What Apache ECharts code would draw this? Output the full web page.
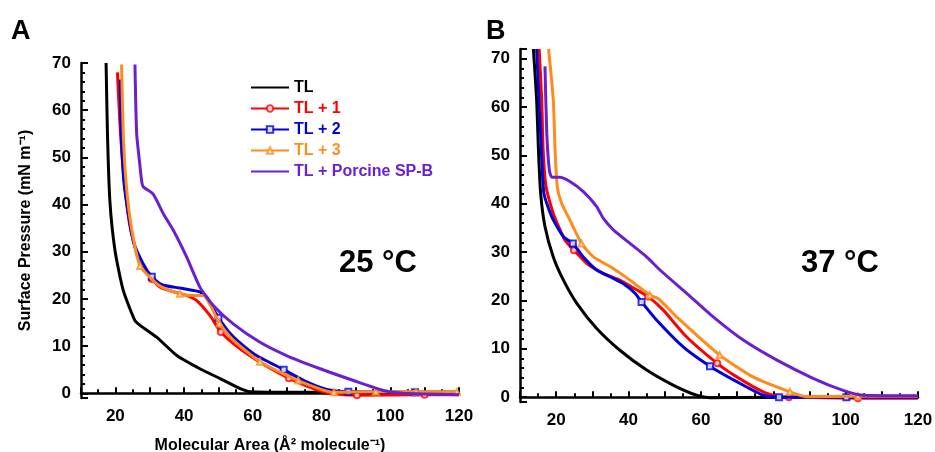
<!DOCTYPE html>
<html>
<head>
<meta charset="UTF-8">
<title>Surface pressure isotherms</title>
<script src="https://cdn.jsdelivr.net/npm/echarts@6/dist/echarts.min.js"></script>
<style>
  body { margin: 0; background: #fff; }
  #root { width: 935px; height: 452px; }
</style>
</head>
<body>
<div id="root"></div>
<script>
// series names (legend order)
var names = ['TL', 'TL + 1', 'TL + 2', 'TL + 3', 'TL + Porcine SP-B'];
var colors = ['#000000', '#ff0000', '#0000dd', '#ff8c1a', '#6a1fd0'];
var markSymbols = ['none', 'emptyCircle', 'emptyRect', 'emptyTriangle', 'none'];
var xTicks = [20, 40, 60, 80, 100, 120];

// panel A, 25 °C  [area, pressure]
var a_TL = [[17.3,70],[17.7,55],[18.4,40.8],[19.9,30.2],[22.3,21.8],[25.7,15.4],[27.2,14.4],[32,11.9],[37.9,8],[44.6,5.2],[50.5,3.1],[56.3,1.0],[59.7,0.3],[70,0.2],[90,0.2],[120,0.2]];
var a_TL1 = [[20.6,68],[21.5,55],[22.8,43.6],[24.3,35.2],[27.2,27.4],[30.6,24.2],[33,22.5],[38.8,21.1],[40.5,20.8],[43.6,19.7],[47.5,16.5],[50.7,13],[56.3,9.4],[62.1,6.6],[70.5,3.2],[77.6,1.0],[82.6,0],[90.3,-0.4],[110,-0.3],[120,-0.3]];
var a_TL2 = [[21.4,66.5],[21.7,55],[22.6,44],[25.2,32.3],[28.1,27.4],[30.6,24.7],[33.5,23],[38.8,22.3],[42.7,21.8],[44.6,21.5],[46.6,20.4],[50,16],[54.4,11.9],[60.2,8.4],[69,5],[75.7,2.4],[81.5,0.8],[87.8,0.3],[107.2,0.2],[120,0.2]];
var a_TL3 = [[21.8,69.7],[22.3,55],[23.2,44],[24.7,35],[27.2,27],[31,23.9],[33.5,22.5],[38.8,21.1],[42.7,20.7],[45.6,20.7],[48,18.2],[50.3,14.8],[54.4,11.2],[62.1,6.7],[73.2,2.7],[83.6,0.2],[95.8,0.3],[107.5,0.3],[119.4,0.3]];
var a_SPB = [[25.7,69.7],[26.2,55],[27,49.3],[27.7,44.7],[28.2,43.7],[31,42.2],[34,38],[36.9,34.5],[40.8,28.8],[44.6,22.5],[48.5,18.6],[54.3,14.7],[62.1,10.8],[69.8,8],[79.6,5.2],[89.3,2.7],[98,0.6],[103.8,0],[120,-0.3]];
// areas where markers sit
var a_marks = [[], [30.6,50.7,70.5,90.3,110], [30.6,50,69,87.8,107.2], [27.2,38.8,50.3,62.1,73.2,83.6,95.8,107.5,119.4], []];

// panel B, 37 °C
var b_TL = [[13.7,72],[14.6,61.5],[15.1,51.1],[15.7,42.2],[16.9,35.3],[19.2,29],[22,24.2],[25.7,19.4],[31.2,14.2],[37.6,9.7],[45,5.6],[52.3,2.5],[58.8,0.4],[62.5,-0.1],[80,0],[120,0]];
var b_TL1 = [[15.3,72],[16,61.5],[16.4,51.1],[17.2,43.5],[19.2,38],[22.4,32.5],[24.9,30.4],[28.4,27.7],[33,25.6],[37.6,24.2],[42.2,22.2],[45.4,20.8],[49.6,18],[56,12.5],[64.5,7],[69.9,4.2],[77.2,1.1],[81.8,0.1],[84.3,0],[103.4,-0.2],[120,-0.2]];
var b_TL2 = [[14.6,72],[15.7,54.6],[16.6,42.2],[18.8,37.3],[22,33.2],[24.6,31.8],[27.5,29],[31.2,26.3],[34.9,24.9],[38.5,23.5],[41.8,21.5],[43.6,19.7],[47.8,15.9],[55.1,10.4],[62.5,6.4],[69.9,3.2],[77.2,0.4],[81.6,0],[100.2,0],[120,0]];
var b_TL3 = [[17.9,72],[19.2,61.5],[19.7,51.1],[20.3,43.5],[21.5,40.1],[23.8,36.6],[27,31.8],[30.3,29],[34.9,27],[40.4,24.2],[45.9,21.1],[48.2,20.4],[53.3,16.6],[65.2,8.7],[74.4,4.2],[84.6,1.1],[89.2,0.1],[103.4,0.2],[120,0.2]];
var b_SPB = [[16.9,68.4],[17.4,54.6],[18.1,47],[18.8,45.5],[21,45.5],[23.8,44.6],[27.5,42.5],[31.2,39.4],[33,37],[35.8,34.6],[40.4,31.8],[45,29],[48.7,26.3],[56,21.5],[63.4,16.6],[71.7,11.8],[80.9,7.7],[91,3.9],[99.3,1.4],[104.8,0.4],[120,0.3]];
var b_marks = [[], [24.9,45.4,64.5,84.3,103.4], [24.6,43.6,62.5,81.6,100.2], [27,45.9,65.2,84.6,103.4], []];

var panelA = [a_TL, a_TL1, a_TL2, a_TL3, a_SPB];
var panelB = [b_TL, b_TL1, b_TL2, b_TL3, b_SPB];

var font = '"Liberation Sans", Arial, sans-serif';

function makeSeries(sets, marks, idx) {
    return sets.map(function (pts, i) {
        return {
            type: 'line',
            name: names[i],
            xAxisIndex: idx,
            yAxisIndex: idx,
            symbol: markSymbols[i],
            symbolSize: 6,
            showSymbol: true,
            smooth: 0.2,
            clip: false,
            z: i === 0 ? 2 : 3 + i,
            lineStyle: { color: colors[i], width: 3 },
            itemStyle: { color: colors[i], borderWidth: 1, opacity: 0.8 },
            data: pts.map(function (p) {
                return { value: p, symbol: marks[i].indexOf(p[0]) >= 0 ? markSymbols[i] : 'none' };
            })
        };
    });
}

function xAxis(idx, named) {
    return {
        type: 'value', gridIndex: idx, min: 10, max: 120, interval: 10,
        name: named ? 'Molecular Area (Å² molecule⁻¹)' : '',
        nameLocation: 'middle', nameGap: 40,
        nameTextStyle: { fontFamily: font, fontWeight: 'bold', fontSize: 16, color: '#000' },
        axisLine: { lineStyle: { color: '#000', width: 2.5 } },
        axisTick: { inside: true, length: 6, lineStyle: { color: '#000', width: 2 } },
        minorTick: { show: true, splitNumber: 2, length: 4, lineStyle: { color: '#000', width: 2 } },
        splitLine: { show: false },
        axisLabel: {
            margin: 10, fontFamily: font, fontWeight: 'bold', fontSize: 17, color: '#000',
            formatter: function (v) { return xTicks.indexOf(v) >= 0 ? String(v) : ''; }
        }
    };
}

function yAxis(idx, max, named) {
    return {
        type: 'value', gridIndex: idx, min: -1, max: max, splitNumber: 7,
        name: named ? 'Surface Pressure (mN m⁻¹)' : '',
        nameLocation: 'middle', nameGap: 47,
        nameTextStyle: { fontFamily: font, fontWeight: 'bold', fontSize: 16, color: '#000' },
        axisLine: { lineStyle: { color: '#000', width: 2.5 } },
        axisTick: { inside: true, length: 7, lineStyle: { color: '#000', width: 2 } },
        minorTick: { show: true, splitNumber: 5, length: 4, lineStyle: { color: '#000', width: 2 } },
        splitLine: { show: false },
        axisLabel: {
            margin: 10, fontFamily: font, fontWeight: 'bold', fontSize: 17, color: '#000',
            showMinLabel: false, showMaxLabel: max === 70,
            formatter: function (v) { return v % 10 === 0 ? String(v) : ''; }
        }
    };
}

var chart = echarts.init(document.getElementById('root'));

chart.setOption({
    animation: false,
    backgroundColor: '#fff',
    grid: [
        { left: 81, top: 63, width: 378, height: 335, outerBoundsMode: 'none' },
        { left: 520, top: 49, width: 398, height: 353, outerBoundsMode: 'none' }
    ],
    xAxis: [xAxis(0, true), xAxis(1, false)],
    yAxis: [yAxis(0, 70, true), yAxis(1, 72, false)],
    legend: {
        left: 245, top: 74, orient: 'vertical',
        itemWidth: 38, itemHeight: 8, itemGap: 4,
        data: names.map(function (n, i) {
            var item = { name: n, textStyle: { color: colors[i] } };
            if (markSymbols[i] === 'none') item.itemStyle = { opacity: 0 };
            return item;
        }),
        textStyle: { fontFamily: font, fontWeight: 'bold', fontSize: 16, lineHeight: 17 }
    },
    graphic: [
        { type: 'text', left: 11, top: 18, style: { text: 'A', font: 'bold 27px ' + font, fill: '#000' } },
        { type: 'text', left: 486, top: 18, style: { text: 'B', font: 'bold 27px ' + font, fill: '#000' } },
        { type: 'text', left: 339, top: 248, style: { text: '25 °C', font: 'bold 31px ' + font, fill: '#000' } },
        { type: 'text', left: 801, top: 248, style: { text: '37 °C', font: 'bold 31px ' + font, fill: '#000' } }
    ],
    series: makeSeries(panelA, a_marks, 0).concat(makeSeries(panelB, b_marks, 1))
});
</script>
</body>
</html>
